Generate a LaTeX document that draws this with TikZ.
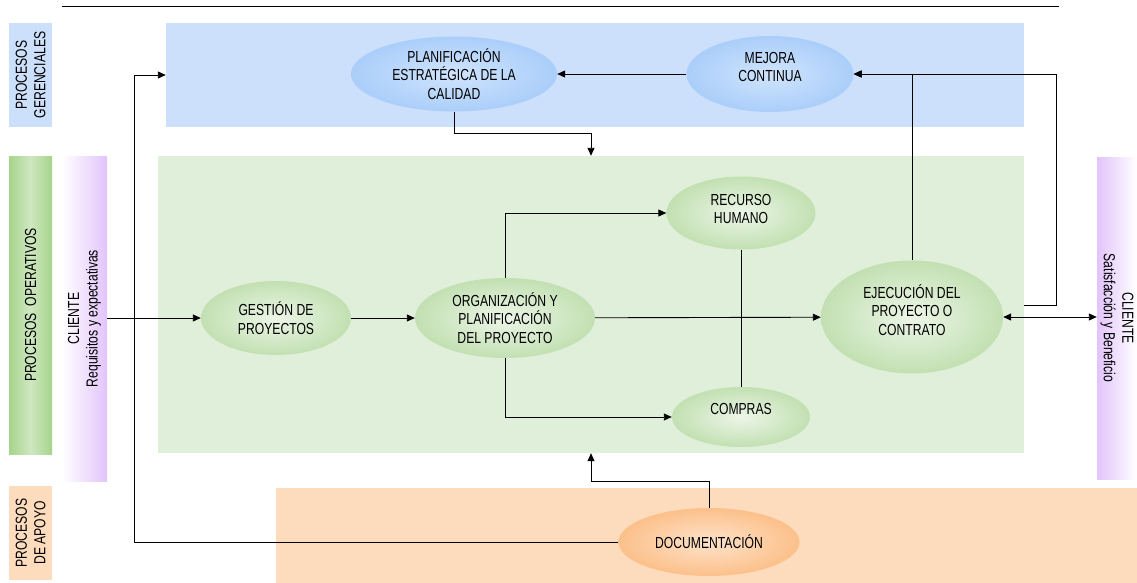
\documentclass[tikz,border=0pt]{standalone}
\usepackage{fontspec}
\setmainfont{Liberation Sans}[FakeStretch=0.76]
\usetikzlibrary{shapes.geometric,arrows.meta}

\definecolor{bandblue}{HTML}{CCE0FB}
\definecolor{bandgreen}{HTML}{E0EFD9}
\definecolor{bandorange}{HTML}{FDDCBD}
\definecolor{elblue}{HTML}{AACEFA}
\definecolor{elgreen}{HTML}{C2E0B2}
\definecolor{elorange}{HTML}{FCC08A}
\definecolor{lblgreen}{HTML}{A6D48C}
\definecolor{lblpurple}{HTML}{E2C4FC}

\begin{document}
\begin{tikzpicture}[x=1pt, y=-1pt,
  every node/.style = {font=\fontsize{16}{18.5}\selectfont,
    align=center, inner sep=0pt},
  band/.style = {rectangle, fill=#1},
  sidebox/.style = {rectangle, fill=#1},
  proc/.style = {ellipse, inner color=white!70!#1, outer color=#1},
  link/.style = {line width=0.9pt},
  arr/.style = {link, -{Triangle[length=8pt,width=7pt]}},
  darr/.style = {link, {Triangle[length=8pt,width=7pt]}-{Triangle[length=8pt,width=7pt]}}]

  \useasboundingbox (0,0) rectangle (1137,583);
  \draw[line width=0.9pt] (62,6) -- (1059,6);

  % bandas de procesos
  \node[band=bandblue, minimum width=858, minimum height=104] (ger) at (595,75) {};
  \node[band=bandgreen, minimum width=866, minimum height=297] (ope) at (591,304.5) {};
  \node[band=bandorange, minimum width=861, minimum height=95] (apo) at (706.5,535.5) {};

  % rotulos laterales
  \node[sidebox=bandblue, minimum width=43, minimum height=104,
    label={[rotate=90]center:PROCESOS\\GERENCIALES}] (lger) at (30.5,75) {};
  \node[sidebox=lblgreen, minimum width=43, minimum height=298,
    left color=lblgreen, right color=lblgreen, middle color=white!45!lblgreen,
    label={[rotate=90]center:PROCESOS\ \ OPERATIVOS}] (lope) at (30.5,305) {};
  \node[sidebox=bandorange, minimum width=43, minimum height=94,
    label={[rotate=90]center:PROCESOS\\DE APOYO}] (lapo) at (30.5,533) {};
  \node[sidebox=lblpurple, minimum width=45, minimum height=325,
    left color=white, right color=lblpurple,
    label={[rotate=90]center:CLIENTE\\Requisitos y expectativas}] (cin) at (84.5,318.5) {};
  \node[sidebox=lblpurple, minimum width=40, minimum height=322,
    left color=lblpurple, right color=white,
    label={[rotate=-90]center:CLIENTE\\Satisfacción y Beneficio}] (cout) at (1117,318) {};

  % procesos
  \node[proc=elblue, inner color=white!45!elblue, minimum width=206, minimum height=75] (plan) at (454,74)
    {PLANIFICACIÓN\\ESTRATÉGICA DE LA\\CALIDAD};
  \node[proc=elblue, inner color=white!45!elblue, minimum width=167, minimum height=76] (mejora) at (770,74)
    {MEJORA\\CONTINUA\\[-4pt]};
  \node[proc=elgreen, minimum width=150, minimum height=74] (gest) at (276,318)
    {GESTIÓN DE\\PROYECTOS};
  \node[proc=elgreen, minimum width=180, minimum height=80] (org) at (505,318)
    {ORGANIZACIÓN Y\\PLANIFICACIÓN\\DEL PROYECTO};
  \node[proc=elgreen, minimum width=149, minimum height=73] (rrhh) at (741,213)
    {RECURSO\\HUMANO\\[-10pt]};
  \node[proc=elgreen, minimum width=138, minimum height=60] (compras) at (741,417)
    {COMPRAS\\[-3pt]};
  \node[proc=elgreen, minimum width=182, minimum height=113] (ejec) at (912,317)
    {EJECUCIÓN DEL\\PROYECTO O\\CONTRATO\\[-4pt]};
  \node[proc=elorange, inner color=white!55!elorange, minimum width=181, minimum height=68] (doc) at (709,542)
    {DOCUMENTACIÓN};

  \coordinate (retro) at (1024,305);

  % conexiones
  \draw[link] (rrhh) -- (compras);
  \draw[arr] (cin.east |- gest) -- (gest);
  \draw[arr] (gest) -- (org);
  \draw[arr] (org) -- (ejec);
  \draw[arr] (org.north) |- (rrhh.west);
  \draw[arr] (org.south) |- (compras.west);
  \draw[arr] (mejora) -- (plan);
  \draw[arr] (plan.south) -- ++(0,22) -| (591,0 |- ope.north);
  \draw[arr] (ejec.north) |- (mejora.east);
  \draw[arr] (retro) -| (1056,0 |- mejora.east) -- (mejora.east);
  \draw[darr] (ejec.east |- ejec) -- (cout.west |- ejec);
  \draw[arr] (doc.north) |- (591,481) -- (591,0 |- ope.south);
  \draw[arr] (doc.west) -| (134,75) -- (ger.west |- 0,75);
\end{tikzpicture}
\end{document}
